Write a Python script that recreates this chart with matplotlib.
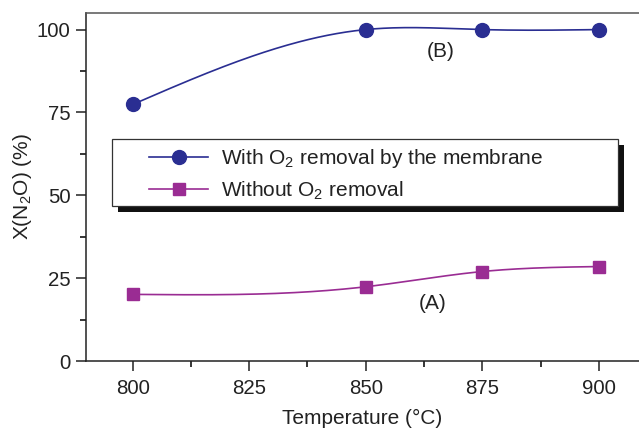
import numpy as np
import matplotlib
matplotlib.use("Agg")
import matplotlib.pyplot as plt
from matplotlib.patches import Rectangle
from matplotlib.ticker import MultipleLocator

plt.rcParams["font.family"] = ["Liberation Sans", "DejaVu Sans"]
plt.rcParams["mathtext.fontset"] = "custom"
plt.rcParams["mathtext.rm"] = "Liberation Sans"
plt.rcParams["mathtext.it"] = "Liberation Sans:italic"

# Data
temperature = [800, 850, 875, 900]
with_o2_removal = [77.4, 100.0, 100.0, 100.0]      # (B)
without_o2_removal = [20.1, 22.4, 27.0, 28.5]      # (A)
x_ticks = [800, 825, 850, 875, 900]
y_ticks = [0, 25, 50, 75, 100]

blue = "#2a2e92"
magenta = "#9a2c93"
ink = "#222222"


def natural_spline(x, y, n=200):
    """Natural cubic spline through (x, y), evaluated on a dense grid."""
    x = np.asarray(x, float)
    y = np.asarray(y, float)
    k = len(x)
    h = np.diff(x)
    A = np.zeros((k, k))
    r = np.zeros(k)
    A[0, 0] = A[-1, -1] = 1.0
    for i in range(1, k - 1):
        A[i, i - 1] = h[i - 1]
        A[i, i] = 2 * (h[i - 1] + h[i])
        A[i, i + 1] = h[i]
        r[i] = 6 * ((y[i + 1] - y[i]) / h[i] - (y[i] - y[i - 1]) / h[i - 1])
    m = np.linalg.solve(A, r)
    xs = np.linspace(x[0], x[-1], n)
    idx = np.clip(np.searchsorted(x, xs) - 1, 0, k - 2)
    x0, x1 = x[idx], x[idx + 1]
    hh = x1 - x0
    a = (x1 - xs) / hh
    b = (xs - x0) / hh
    ys = (a * y[idx] + b * y[idx + 1]
          + ((a ** 3 - a) * m[idx] + (b ** 3 - b) * m[idx + 1]) * hh ** 2 / 6)
    return xs, ys


fig = plt.figure(figsize=(6.39, 4.29), dpi=100)
ax = fig.add_axes([0.1346, 0.1585, 0.8654, 0.8112])

xs, ys = natural_spline(temperature, with_o2_removal)
ax.plot(xs, ys, color=blue, lw=1.2, zorder=3)
ax.plot(temperature, with_o2_removal, "o", color=blue, ms=10, zorder=4)

xs, ys = natural_spline(temperature, without_o2_removal)
ax.plot(xs, ys, color=magenta, lw=1.2, zorder=3)
ax.plot(temperature, without_o2_removal, "s", color=magenta, ms=9, zorder=4)

ax.set_xlim(790, 908.6)
ax.set_ylim(0, 105)
ax.set_xticks(x_ticks)
ax.set_yticks(y_ticks)
ax.xaxis.set_minor_locator(MultipleLocator(12.5))
ax.yaxis.set_minor_locator(MultipleLocator(12.5))
ax.tick_params(which="major", direction="out", length=7, width=1.1,
               labelsize=14.7, pad=4, colors=ink)
ax.tick_params(axis="x", which="major", pad=6)
ax.tick_params(which="minor", direction="out", length=4, width=1.1)

ax.spines["right"].set_visible(False)
for s in ("left", "bottom", "top"):
    ax.spines[s].set_linewidth(1.1)
    ax.spines[s].set_color(ink)
ax.spines["top"].set_color("#555555")

ax.set_xlabel("Temperature (°C)", fontsize=15, labelpad=7.5, color=ink)
ax.set_ylabel("X(N$_2$O) (%)", fontsize=15, labelpad=2, color=ink)

ax.text(866, 93.3, "(B)", fontsize=15, ha="center", va="center", color=ink)
ax.text(864.4, 17.2, "(A)", fontsize=15, ha="center", va="center", color=ink)

# Legend frame with offset drop shadow
fx0, fx1 = 0.047, 0.962
fy0, fy1 = 0.445, 0.638
off_x, off_y = 6 / 553, 6 / 348
ax.add_patch(Rectangle((fx0 + off_x, fy0 - off_y), fx1 - fx0, fy1 - fy0,
                       transform=ax.transAxes, facecolor="#111111",
                       edgecolor="none", zorder=5))
ax.add_patch(Rectangle((fx0, fy0), fx1 - fx0, fy1 - fy0,
                       transform=ax.transAxes, facecolor="white",
                       edgecolor="#333333", lw=0.9, zorder=6))

h1, = ax.plot([], [], "-o", color=blue, ms=10, lw=1.2)
h2, = ax.plot([], [], "-s", color=magenta, ms=9, lw=1.2)
leg = ax.legend([h1, h2],
                ["With O$_2$ removal by the membrane", "Without O$_2$ removal"],
                loc="center left", bbox_to_anchor=(0.114, 0.536),
                frameon=False, borderpad=0, borderaxespad=0,
                handlelength=2.85, handletextpad=0.58, labelspacing=0.45,
                fontsize=15)
leg.set_zorder(7)
for t in leg.get_texts():
    t.set_color(ink)

fig.savefig("out.png", dpi=100)
